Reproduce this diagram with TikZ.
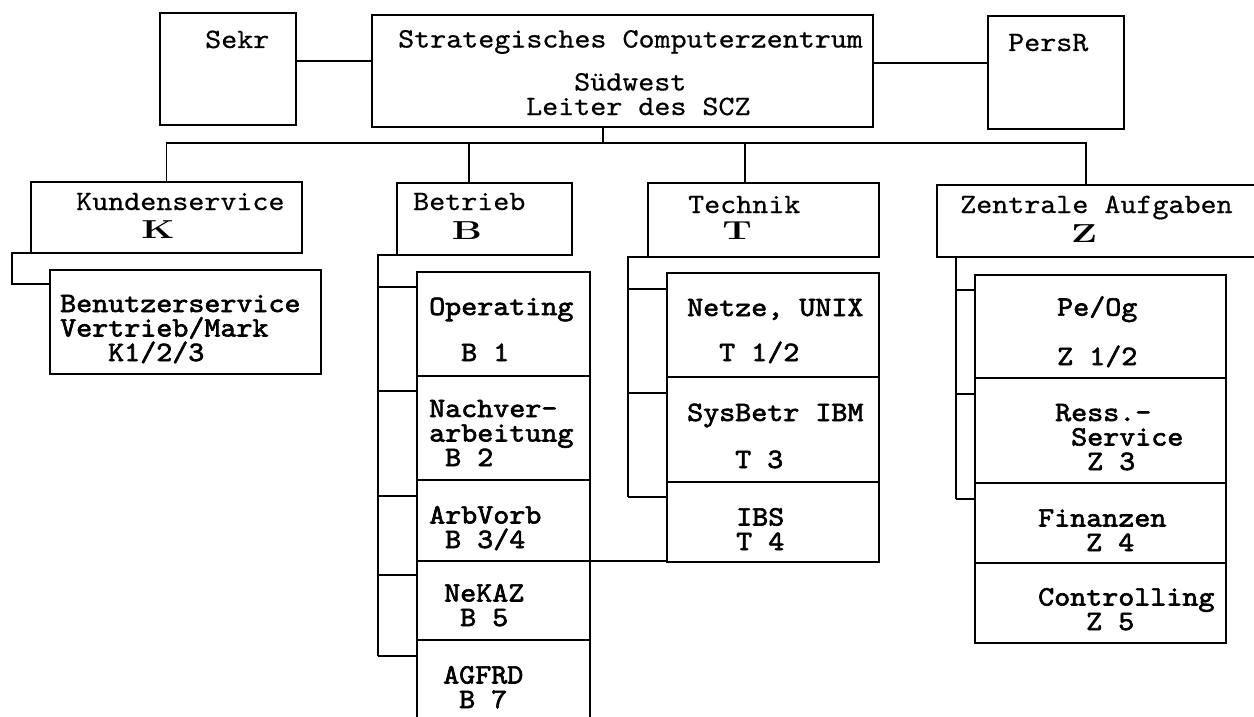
\documentclass[tikz,border=0pt]{standalone}
\usepackage{fontspec}
\newfontfamily\monor{lmmono10-regular}[Extension=.otf, FakeBold=0.6, FakeStretch=1.09]
\newfontfamily\monob{lmmono10-regular}[Extension=.otf, FakeBold=2.2, FakeStretch=1.09]
\begin{document}
\begin{tikzpicture}[x=1pt,y=-1pt,
  box/.style={draw, line width=1.8pt, inner sep=0pt, outer sep=0pt},
  conn/.style={line width=1.8pt},
  lbl/.style={anchor=base west, inner sep=0pt, align=left, font=\monor\fontsize{28}{24.5}\selectfont},
  blbl/.style={anchor=base west, inner sep=0pt, align=left, font=\monob\fontsize{28}{24.5}\selectfont},
  big/.style={anchor=base, inner sep=0pt, font=\rmfamily\bfseries\fontsize{26}{30}\selectfont}]
\useasboundingbox (0,0) rectangle (1254,717);
\clip (0,0) rectangle (1254,717);

% top row
\node[box, minimum width=136pt, minimum height=112pt] (sekr) at (228,69) {};
\node[box, minimum width=501pt, minimum height=112pt] (main) at (622.5,71) {};
\node[box, minimum width=136pt, minimum height=113pt] (persr) at (1056,72.5) {};
% second row
\node[box, minimum width=271pt, minimum height=71pt] (K) at (166.5,217.5) {};
\node[box, minimum width=175pt, minimum height=72pt] (B) at (484.5,219) {};
\node[box, minimum width=231pt, minimum height=74pt] (T) at (763.5,220) {};
\node[box, minimum width=325pt, minimum height=72pt] (Z) at (1099.5,221) {};
% K column
\node[box, minimum width=271pt, minimum height=104pt] (ben) at (185.5,322) {};
% B column
\node[box, minimum width=173pt, minimum height=104pt] (b1) at (503.5,324) {};
\node[box, minimum width=173pt, minimum height=104pt] (b2) at (503.5,428) {};
\node[box, minimum width=173pt, minimum height=81pt] (b34) at (503.5,520.5) {};
\node[box, minimum width=173pt, minimum height=79pt] (b5) at (503.5,600.5) {};
\node[box, minimum width=173pt, minimum height=90pt] (b7) at (503.5,685) {};
% T column
\node[box, minimum width=212pt, minimum height=104pt] (t12) at (773,325) {};
\node[box, minimum width=212pt, minimum height=105pt] (t3) at (773,429.5) {};
\node[box, minimum width=212pt, minimum height=80pt] (t4) at (773,522) {};
% Z column
\node[box, minimum width=251pt, minimum height=103pt] (z12) at (1100.5,326.5) {};
\node[box, minimum width=251pt, minimum height=105pt] (z3) at (1100.5,430.5) {};
\node[box, minimum width=251pt, minimum height=80pt] (z4) at (1100.5,523) {};
\node[box, minimum width=251pt, minimum height=80pt] (z5) at (1100.5,603) {};

% helper coordinates
\coordinate (bus) at (0,143);
\coordinate (kb) at (12,284);
\coordinate (bk1) at (378,287);
\coordinate (bk2) at (378,391);
\coordinate (bk3) at (378,496);
\coordinate (bk4) at (378,575);
\coordinate (bk5) at (378,656);
\coordinate (tk1) at (628,289);
\coordinate (tk2) at (628,393);
\coordinate (tk3) at (628,497);
\coordinate (zk1) at (956,290);
\coordinate (zk2) at (956,394);
\coordinate (zk3) at (956,499);

% connectors
\draw[conn] ([yshift=8pt]sekr.east) coordinate (s1) -- (s1 -| main.west);
\draw[conn] ([yshift=8pt]main.east) coordinate (p1) -- (p1 -| persr.west);
\draw[conn] ([xshift=-19.5pt]main.south) coordinate (m0) -- (m0 |- bus);
\draw[conn] (K.north) -- (K.north |- bus) -| ([xshift=-13.5pt]Z.north);
\draw[conn] ([xshift=-15.5pt]B.north) coordinate (b0) -- (b0 |- bus);
\draw[conn] ([xshift=-18.5pt]T.north) coordinate (t0) -- (t0 |- bus);

\draw[conn] (K.south west) -- (K.south west -| kb) -- (kb) -- (kb -| ben.west);

\draw[conn] (B.south west) -- (B.south west -| bk1) -- (bk5);
\foreach \c/\n in {bk1/b1,bk2/b2,bk3/b34,bk4/b5,bk5/b7}
  \draw[conn] (\c) -- (\c -| \n.west);

\draw[conn] (T.south west) -- (T.south west -| tk1) -- (tk3);
\foreach \c/\n in {tk1/t12,tk2/t3,tk3/t4}
  \draw[conn] (\c) -- (\c -| \n.west);

\draw[conn] ([xshift=19pt]Z.south west) -- (zk3);
\foreach \c/\n in {zk1/z12,zk2/z3,zk3/z4}
  \draw[conn] (\c) -- (\c -| \n.west);

\draw[conn] (b34.south east) -- (b34.south east -| t4.west);

% texts (anchor = baseline of the last line)
\node[lbl] (tsekr) at (205,48) {Sekr};
\node[lbl] (tmain) at (398,115) {Strategisches Computerzentrum\\[18.5pt]
  \hspace*{176pt}Südwest\\\hspace*{128pt}Leiter des SCZ};
\node[lbl] (tpersr) at (1008,51) {PersR};

\node[lbl] (tK) at (76,210) {Kundenservice};
\node[big] (bigK) at (158,238) {\scalebox{1.45}[1]{K}};
\node[lbl] (tB) at (413,210) {Betrieb};
\node[big] (bigB) at (467,239) {\scalebox{1.45}[1]{B}};
\node[lbl] (tT) at (688,213) {Technik};
\node[big] (bigT) at (737,239) {\scalebox{1.45}[1]{T}};
\node[lbl] (tZ) at (960,213) {Zentrale Aufgaben};
\node[big] (bigZ) at (1084,242) {\scalebox{1.45}[1]{Z}};

\node[blbl] (tben) at (60,361) {Benutzerservice\\Vertrieb/Mark\\\hspace*{48pt}K1/2/3};

\node[blbl] (tb1) at (429,361) {Operating\\[21.5pt]\hspace*{32pt}B 1};
\node[blbl] (tb2) at (429,466) {Nachver-\\arbeitung\\\hspace*{16pt}B 2};
\node[blbl] (tb34) at (429,548) {ArbVorb\\\hspace*{16pt}B 3/4};
\node[blbl] (tb5) at (444,626) {NeKAZ\\\hspace*{16pt}B 5};
\node[blbl] (tb7) at (443,708) {AGFRD\\\hspace*{16pt}B 7};

\node[blbl] (tt12) at (687,361) {Netze, UNIX\\[20.5pt]\hspace*{32pt}T 1/2};
\node[blbl] (tt3) at (687,468) {SysBetr IBM\\[22.5pt]\hspace*{48pt}T 3};
\node[blbl] (tt4) at (736,550) {IBS\\T 4};

\node[blbl] (tz12) at (1057,365) {Pe/Og\\[22.5pt]Z 1/2};
\node[blbl] (tz3) at (1055,470) {Ress.-\\\hspace*{16pt}Service\\\hspace*{32pt}Z 3};
\node[blbl] (tz4) at (1038,551) {Finanzen\\\hspace*{48pt}Z 4};
\node[blbl] (tz5) at (1038,630) {Controlling\\\hspace*{48pt}Z 5};
\end{tikzpicture}
\end{document}
